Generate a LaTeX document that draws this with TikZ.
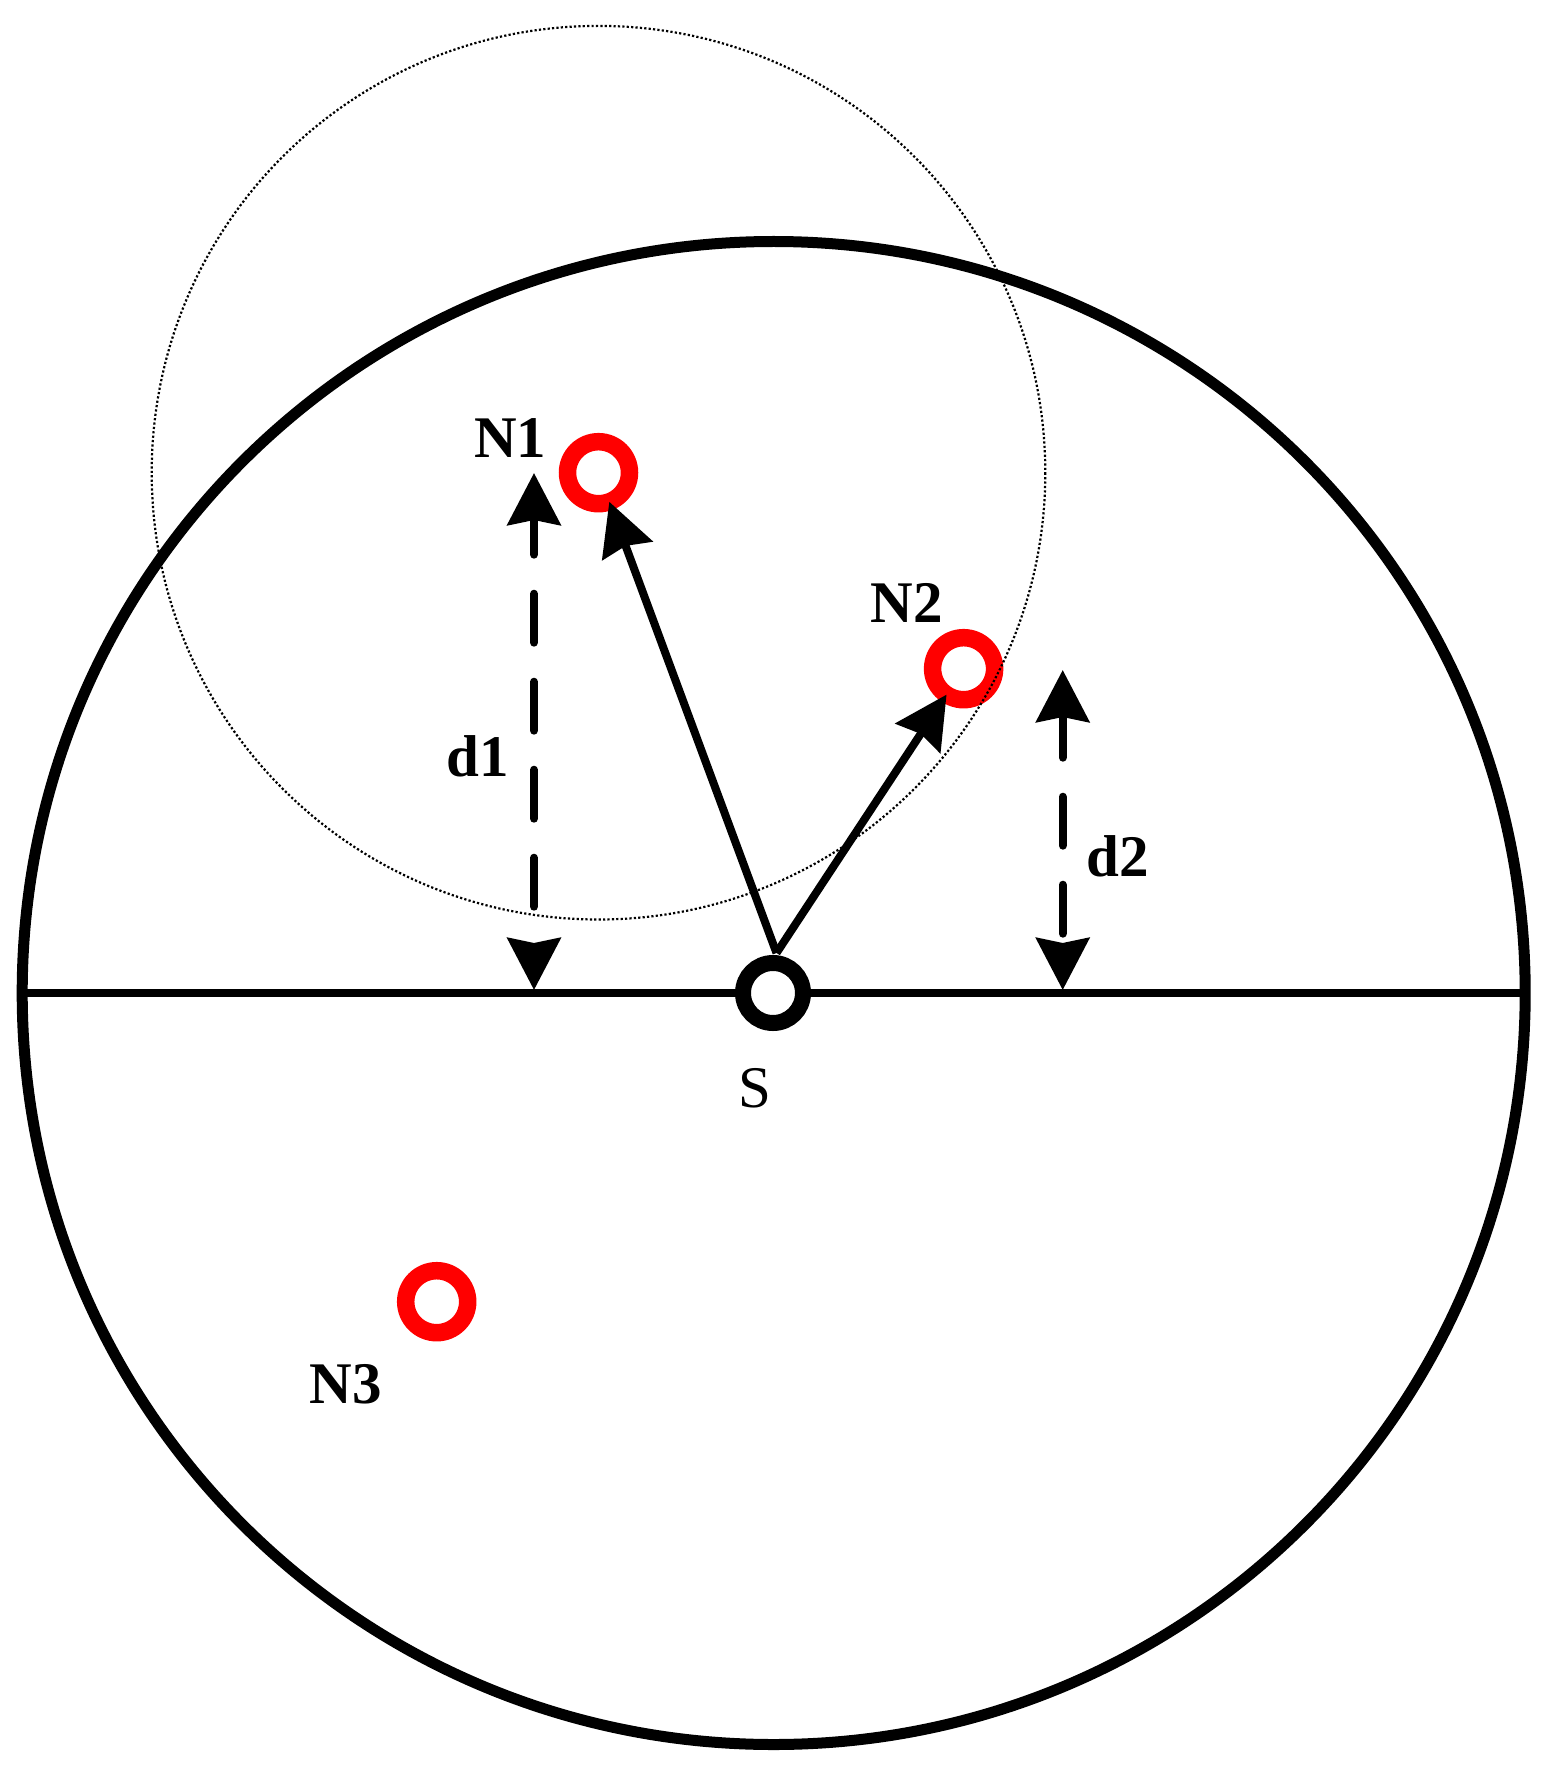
\documentclass[tikz,border=0pt]{standalone}
\usepackage{fontspec}
\setmainfont{Liberation Serif}
\usetikzlibrary{arrows.meta}
\tikzset{
  bigcircle/.style={line width=5.5pt},
  baseline/.style={line width=4pt},
  rangecircle/.style={line width=1.1pt, dash pattern=on 1.1pt off 1.1pt},
  sensor/.style={circle, draw=red, line width=8.75pt, minimum size=31pt, inner sep=0pt, outer sep=0pt},
  sink/.style={circle, draw=black, fill=white, line width=8pt, minimum size=30pt, inner sep=0pt, outer sep=0pt},
  linkarrow/.style={line width=4pt, -{Stealth[length=26pt, width=26.5pt, inset=2.5pt]}},
  dimarrow/.style={line width=4.15pt, line cap=round, dash pattern=on 24.35pt off 19.65pt,
    {Stealth[length=26pt, width=26.5pt, inset=2.5pt]}-{Stealth[length=26pt, width=26.5pt, inset=2.5pt]}},
  lbl/.style={inner sep=0pt, anchor=center, font=\fontsize{29.5}{30}\selectfont\bfseries},
  lblreg/.style={inner sep=0pt, anchor=center, font=\fontsize{29.5}{30}\selectfont},
}
\begin{document}
\begin{tikzpicture}[x=0.5pt, y=-0.5pt]
\useasboundingbox (0,0) rectangle (1554,1770);
% outer region
\coordinate (C) at (773.7,993);
\draw[bigcircle] (C) circle[radius=751.5];
\coordinate (Lend) at (22,993);
\coordinate (Rend) at (1525.4,993);
\draw[baseline] (Lend) -- (Rend);
% nodes
\node[sensor] (n1) at (598.5,472.7) {};
\node[sensor] (n2) at (963.6,668.7) {};
\node[sensor] (n3) at (436.7,1301.7) {};
\node[sink] (s) at (773,993) {};
% range circle of N1
\draw[rangecircle] (n1.center) circle[radius=446.8];
% links
\coordinate (src) at (776.5,953);
\draw[linkarrow] (src) -- (n1);
\draw[linkarrow] (src) -- (n2);
% distances
\coordinate (d1top) at (534,473);
\coordinate (d1bot) at (534,990);
\coordinate (d2top) at (1062.7,670);
\coordinate (d2bot) at (1062.7,990);
\draw[dimarrow, dash phase=6pt] (d1top) -- (d1bot);
\draw[dimarrow, dash phase=3pt] (d2top) -- (d2bot);
% labels
\node[lbl] (lN1) at (510.3,437.8) {N1};
\node[lbl] (lN2) at (906.7,602.7) {N2};
\node[lbl] (lN3) at (346,1384.5) {N3};
\node[lbl] (ld1) at (478,756) {d1};
\node[lbl] (ld2) at (1117.5,856) {d2};
\node[lblreg] (lS) at (754.8,1088.3) {S};
\end{tikzpicture}
\end{document}
